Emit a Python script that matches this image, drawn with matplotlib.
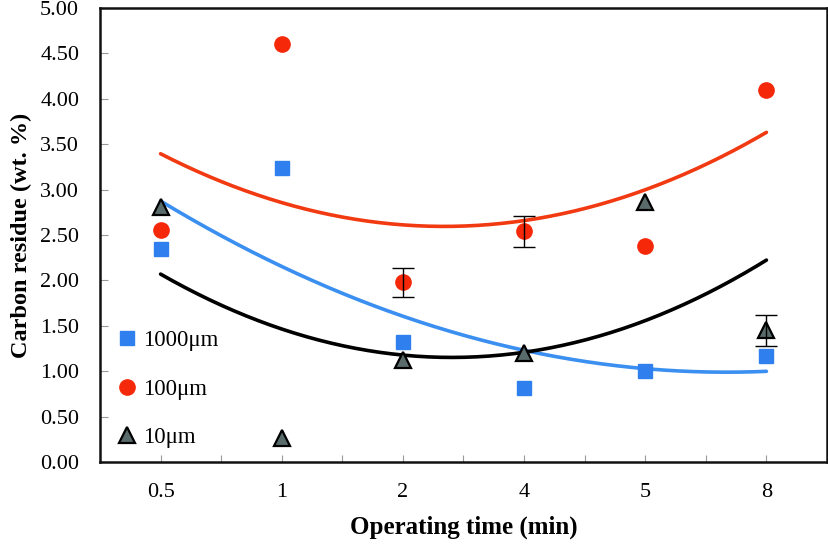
import numpy as np
import matplotlib.pyplot as plt

# operating time categories (min)
times = ["0.5", "1", "2", "4", "5", "8"]

# carbon residue (wt. %) per particle size
res_1000 = [2.35, 3.24, 1.32, 0.81, 1.00, 1.17]
res_100 = [2.55, 4.60, 1.98, 2.54, 2.38, 4.10]
res_10 = [2.81, 0.26, 1.12, 1.20, 2.86, 1.45]

# error bars (only a few points have them)
err_100 = [0, 0, 0.16, 0.17, 0, 0]
err_10 = [0, 0, 0, 0, 0, 0.17]

plt.rcParams['font.family'] = ['Liberation Serif', 'DejaVu Serif']

fig = plt.figure(figsize=(8.29, 5.46), dpi=100)
ax = fig.add_axes([100 / 829, 84 / 546, 727 / 829, 454 / 546])

x = np.arange(1, len(times) + 1)
xs = np.linspace(1, len(times), 200)

blue = '#2F80EE'
red = '#F5290A'
grey = '#5A6B6B'

# 2nd-order polynomial trend lines (as in the spreadsheet)
for ys, c in [(res_100, '#F23A12'), (res_1000, '#3B8FF0'), (res_10, 'black')]:
    p = np.polyfit(x, ys, 2)
    ax.plot(xs, np.polyval(p, xs), color=c, lw=2.6, solid_capstyle='round', zorder=2)

# error bars
for ys, e in [(res_100, err_100), (res_10, err_10)]:
    e = np.array(e)
    m = e > 0
    ax.errorbar(x[m], np.array(ys)[m], yerr=e[m], fmt='none', ecolor='black',
                elinewidth=1.0, capsize=8, capthick=1.0, zorder=4)

ax.plot(x, res_1000, 's', ms=10, color=blue, mec=blue, label='1000μm', zorder=3)
ax.plot(x, res_100, 'o', ms=11, color=red, mec=red, label='100μm', zorder=3)
ax.plot(x, res_10, '^', ms=11, color=grey, mec='black', mew=1.6, label='10μm', zorder=3)

ax.set_xlim(0.5, len(times) + 0.5)
ax.set_ylim(0, 5)
ax.set_yticks(np.arange(0, 5.01, 0.5))
ax.set_yticklabels([f"{v:.2f}" for v in np.arange(0, 5.01, 0.5)])
ax.set_xticks(x)
ax.set_xticklabels(times)
ax.set_xticks(np.arange(1.5, len(times), 1), minor=True)

ax.tick_params(axis='both', which='both', direction='in', color='#999999',
               labelsize=16, width=0.8)
ax.tick_params(axis='y', length=6, pad=15)
ax.tick_params(axis='x', which='both', length=5, pad=15)
for s in ax.spines.values():
    s.set_linewidth(1.8)
    s.set_color('#111111')

ax.set_xlabel('Operating time (min)', fontsize=18, fontweight='bold', labelpad=10)
ax.set_ylabel('Carbon residue (wt. %)', fontsize=17.5, fontweight='bold', labelpad=6)

ax.legend(loc='lower left', bbox_to_anchor=(0.0, 0.0), frameon=False, fontsize=16.5,
          handletextpad=0.1, labelspacing=1.2, handlelength=1.2, borderaxespad=0.2)

fig.savefig('out.png', dpi=100)
